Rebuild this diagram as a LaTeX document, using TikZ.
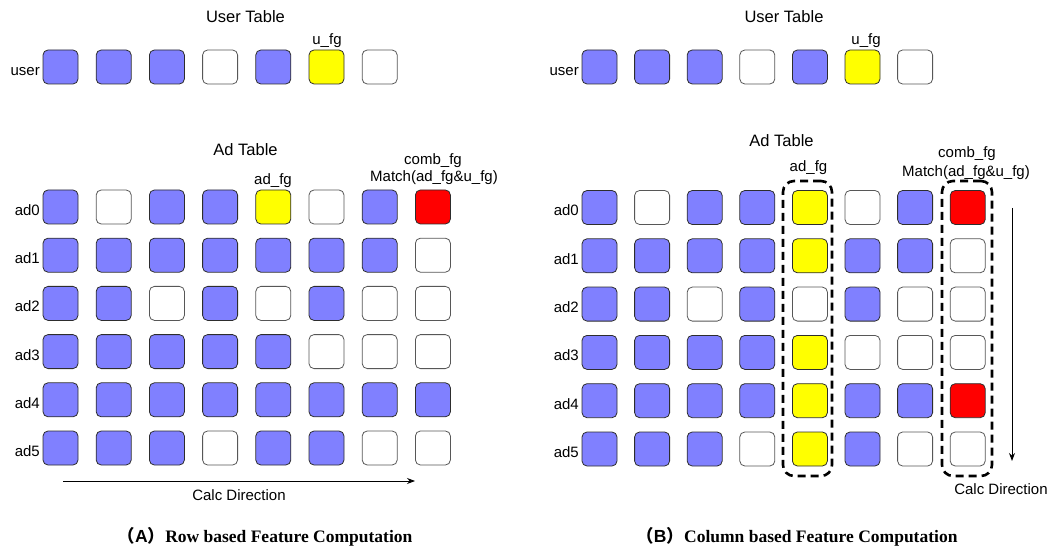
\documentclass[tikz,border=0pt]{standalone}
\usepackage{fontspec}
\setmainfont{Liberation Sans}
\newfontfamily\capfont{Liberation Serif}
\newfontfamily\cjk{Noto Sans CJK SC}
\usetikzlibrary{arrows.meta,fit}
\definecolor{cb}{RGB}{128,128,255}
\definecolor{cy}{RGB}{255,255,0}
\definecolor{cr}{RGB}{255,0,0}
\definecolor{edgec}{RGB}{45,45,45}
\tikzset{
  cell/.style={draw=edgec, line width=0.8pt, rounded corners=5pt, minimum width=35pt, minimum height=34pt, inner sep=0pt, outer sep=0pt},
  cB/.style={cell, fill=cb},
  cW/.style={cell, fill=white, draw=edgec!80},
  cY/.style={cell, fill=cy},
  cR/.style={cell, fill=cr},
  lbl/.style={font=\fontsize{15}{18}\selectfont, inner sep=0pt},
  ttl/.style={font=\fontsize{16.5}{20}\selectfont, inner sep=0pt},
  capt/.style={font=\fontsize{17.5}{21}\selectfont\capfont\bfseries, inner sep=0pt},
  dashbox/.style={draw=black, line width=2.6pt, dash pattern=on 8pt off 5pt, rounded corners=11pt, inner sep=0pt},
  calcarrow/.style={line width=0.9pt, -{Stealth[length=8pt,width=6pt]}}
}
\begin{document}
\begin{tikzpicture}[x=1pt,y=-1pt]
\useasboundingbox (0,0) rectangle (1058,548);

% ---------------- Left panel ----------------
\node[ttl, anchor=base] (LUT) at (245.5,23) {User Table};
\foreach \c [count=\i] in {B,B,B,W,B,Y,W}
  \node[c\c] (Lu\i) at ({60.5+53.2*(\i-1)},67) {};
\node[lbl, anchor=base east] (Luser) at (40,76) {user};
\node[lbl, anchor=base] (Lufg) at (327,45) {u\_fg};

\node[ttl, anchor=base] (LAT) at (245.5,156) {Ad Table};
\node[lbl, anchor=base] (Ladfg) at (273,185) {ad\_fg};
\node[lbl, anchor=base] (Lcomb) at (433,165) {comb\_fg};
\node[lbl, anchor=base] (Lmatch) at (434,182) {Match(ad\_fg\&u\_fg)};

\foreach \row [count=\r from 0] in {{B,W,B,B,Y,W,B,R},{B,B,B,B,B,B,B,W},{B,B,W,B,W,B,W,W},{B,B,B,B,B,W,W,W},{B,B,B,B,B,B,B,B},{B,B,B,W,B,B,W,W}}{
  \foreach \c [count=\i] in \row
    \node[c\c] (La\r-\i) at ({60.5+53.2*(\i-1)},{207+48.2*\r}) {};
  \node[lbl, anchor=base east] (Lad\r) at ({40},{215.5+48.2*\r}) {ad\r};
}

\coordinate (LarS) at (63,481);
\coordinate (LarE) at (415,481);
\draw[calcarrow] (LarS) -- (LarE);
\node[lbl, anchor=base] (Lcalc) at (239,500) {Calc Direction};

\node[capt, anchor=base] (Lcap) at (265,542) {{\cjk （}{\fontspec{Liberation Sans}\bfseries A}{\cjk ）}Row based Feature Computation};

% ---------------- Right panel ----------------
\node[ttl, anchor=base] (RUT) at (784,23) {User Table};
\foreach \c [count=\i] in {B,B,B,W,B,Y,W}
  \node[c\c] (Ru\i) at ({599.5+52.6*(\i-1)},67) {};
\node[lbl, anchor=base east] (Ruser) at (579,76) {user};
\node[lbl, anchor=base] (Rufg) at (866,45) {u\_fg};

\node[ttl, anchor=base] (RAT) at (781.5,147) {Ad Table};
\node[lbl, anchor=base] (Radfg) at (808.5,172) {ad\_fg};
\node[lbl, anchor=base] (Rcomb) at (967,158) {comb\_fg};
\node[lbl, anchor=base] (Rmatch) at (966,177) {Match(ad\_fg\&u\_fg)};

\foreach \row [count=\r from 0] in {{B,W,B,B,Y,W,B,R},{B,B,B,B,Y,B,B,W},{B,B,W,B,W,B,W,W},{B,B,B,B,Y,W,W,W},{B,B,B,B,Y,B,B,R},{B,B,B,W,Y,B,W,W}}{
  \foreach \c [count=\i] in \row
    \node[c\c] (Ra\r-\i) at ({599.5+52.6*(\i-1)},{207.5+48.3*\r}) {};
  \node[lbl, anchor=base east] (Rad\r) at ({579},{216+48.3*\r}) {ad\r};
}

\node[dashbox, fit={(783,181) (832,476)}] (Rbox1) {};
\node[dashbox, fit={(942,181) (992,476)}] (Rbox2) {};

\coordinate (RarS) at (1012,208);
\coordinate (RarE) at (1012,461);
\draw[calcarrow] (RarS) -- (RarE);
\node[lbl, anchor=base] (Rcalc) at (1001,494) {Calc Direction};

\node[capt, anchor=base] (Rcap) at (797,542) {{\cjk （}{\fontspec{Liberation Sans}\bfseries B}{\cjk ）}Column based Feature Computation};
\end{tikzpicture}
\end{document}
